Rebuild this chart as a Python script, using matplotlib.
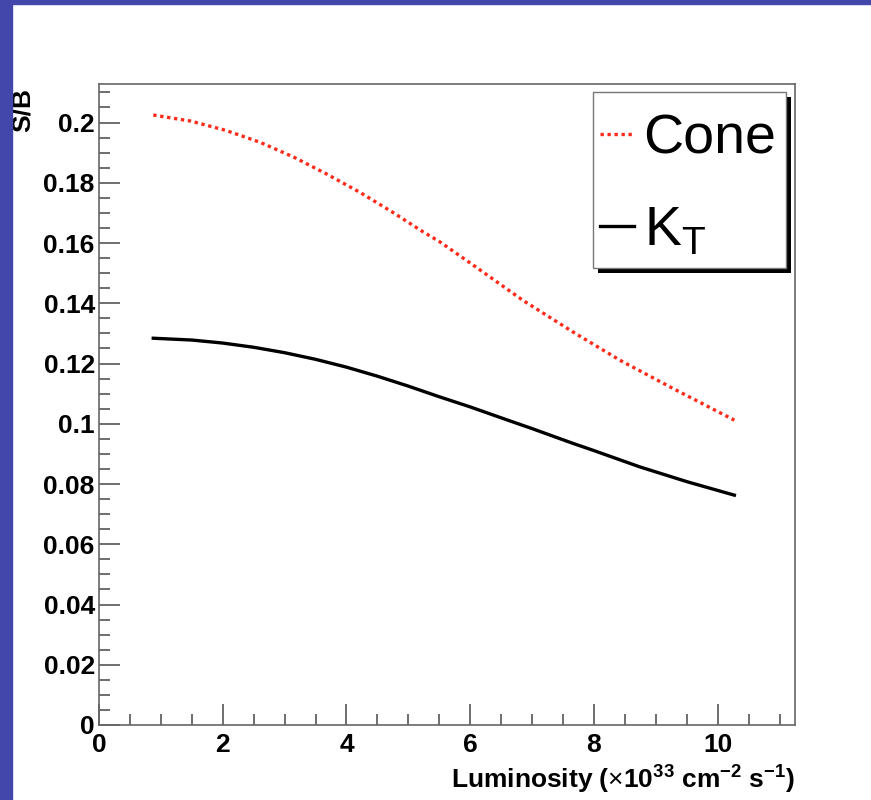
import matplotlib
matplotlib.use('Agg')
import matplotlib.pyplot as plt
from matplotlib.patches import Rectangle
from matplotlib.ticker import MultipleLocator

plt.rcParams['font.family'] = ['Liberation Sans', 'DejaVu Sans']
plt.rcParams['mathtext.fontset'] = 'custom'
plt.rcParams['mathtext.rm'] = 'Liberation Sans'
plt.rcParams['mathtext.bf'] = 'Liberation Sans:bold'

# luminosity (x 10^33 cm^-2 s^-1) and S/B
lumi_cone = [0.877, 1.48, 2.05, 2.61, 3.16, 3.69, 4.22, 4.74, 5.24, 5.51,
             6.13, 6.85, 7.66, 8.42, 9.28, 10.27]
sb_cone = [0.2025, 0.2005, 0.1974, 0.1934, 0.1884, 0.1828, 0.1768, 0.1703, 0.1637, 0.1604,
           0.1515, 0.1410, 0.1305, 0.1211, 0.1117, 0.1012]
lumi_kt = [0.877, 1.5, 2.0, 2.5, 3.0, 3.5, 4.0, 4.5, 5.0, 5.51, 6.0, 6.58, 7.0, 7.66,
           8.0, 8.74, 9.5, 10.27]
sb_kt = [0.1284, 0.1278, 0.1268, 0.1254, 0.1236, 0.1214, 0.1188, 0.1158, 0.1125, 0.1089,
         0.1056, 0.1014, 0.0984, 0.0935, 0.0911, 0.0857, 0.0808, 0.0763]

yticks = [0, 0.02, 0.04, 0.06, 0.08, 0.1, 0.12, 0.14, 0.16, 0.18, 0.2]
ytick_labels = ['0', '0.02', '0.04', '0.06', '0.08', '0.1', '0.12', '0.14', '0.16', '0.18', '0.2']

fig = plt.figure(figsize=(8.71, 8.0), dpi=100)
# blue slide border
fig.patches.append(Rectangle((0, 0), 12 / 871, 1, transform=fig.transFigure,
                             color='#4346aa', zorder=10))
fig.patches.append(Rectangle((0, 1 - 4 / 800), 1, 4 / 800, transform=fig.transFigure,
                             color='#4346aa', zorder=10))

ax = fig.add_axes([99 / 871, 75 / 800, 696 / 871, 641 / 800])

ax.plot(lumi_cone, sb_cone, color='#ff2a1a', lw=2.4, linestyle=(0, (1, 1.1)), label='Cone')
ax.plot(lumi_kt, sb_kt, color='black', lw=2.4, label=r'K$_{\mathregular{T}}$')

ax.set_xlim(0, 11.25)
ax.set_ylim(0, 0.2128)
ax.xaxis.set_major_locator(MultipleLocator(2))
ax.xaxis.set_minor_locator(MultipleLocator(0.5))
ax.yaxis.set_minor_locator(MultipleLocator(0.005))
ax.set_yticks(yticks)
ax.set_yticklabels(ytick_labels)

ax.tick_params(which='both', direction='in', top=False, right=False,
               color='#555555', width=1.2, labelsize=19)
ax.tick_params(axis='x', pad=6)
ax.tick_params(axis='y', pad=3)
ax.tick_params(which='major', length=15)
ax.tick_params(which='minor', length=8)
for lab in ax.get_xticklabels() + ax.get_yticklabels():
    lab.set_fontweight('bold')
for sp in ax.spines.values():
    sp.set_color('#666666')
    sp.set_linewidth(1.2)

ax.set_xlabel(r'Luminosity ($\times$10$^{\mathbf{33}}$ cm$^{\mathbf{-2}}$ s$^{\mathbf{-1}}$)',
              fontsize=19, fontweight='bold', ha='right', va='top')
ax.xaxis.set_label_coords(1.0, -0.058)
ax.set_ylabel('S/B', fontsize=19, fontweight='bold', ha='right', va='center')
ax.yaxis.set_label_coords(-0.109, 0.994)

# ROOT-style legend box with a hard black shadow
x0, x1 = 0.7098, 0.9871
y0, y1 = 0.7129, 0.9875
dx, dy = 5 / 696, 5 / 641
ax.add_patch(Rectangle((x0 + dx, y0 - dy), x1 - x0, y1 - y0, transform=ax.transAxes,
                       facecolor='black', edgecolor='none', zorder=4, clip_on=False))
ax.add_patch(Rectangle((x0, y0), x1 - x0, y1 - y0, transform=ax.transAxes,
                       facecolor='white', edgecolor='#777777', lw=1.0, zorder=4.5,
                       clip_on=False))
leg = ax.legend(loc='upper left', bbox_to_anchor=(x0, y1 - 14 / 641), fontsize=40,
                frameon=False, handlelength=0.6, handletextpad=0.18, borderpad=0.13,
                labelspacing=0.72, borderaxespad=0)
leg.set_zorder(5)

fig.savefig('out.png', dpi=100)
